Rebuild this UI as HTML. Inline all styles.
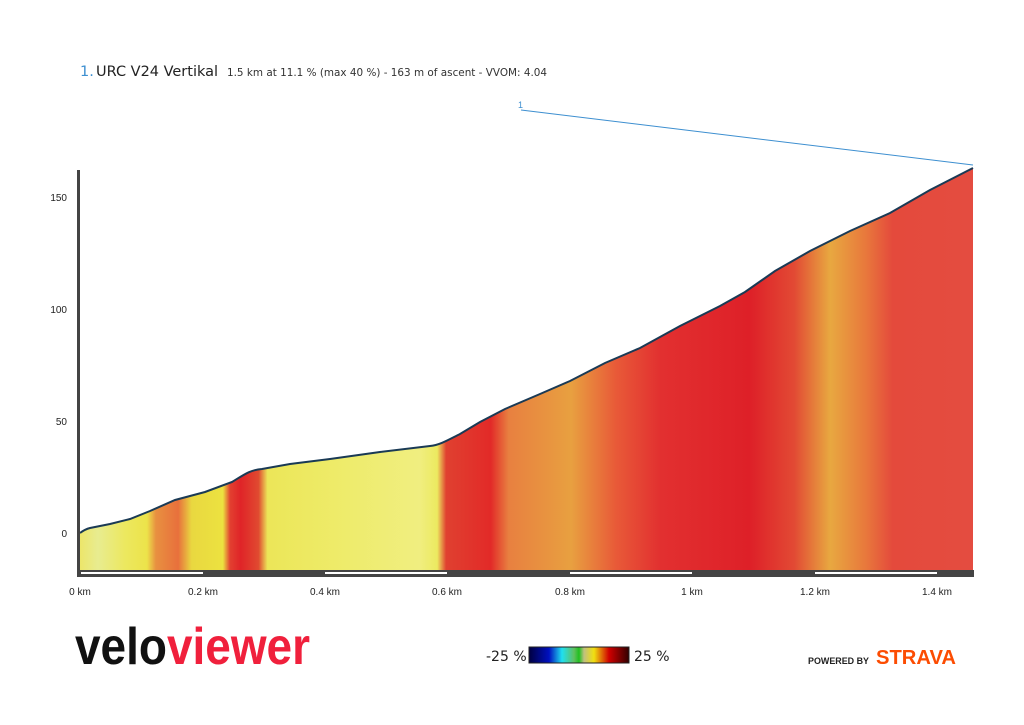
<!DOCTYPE html>
<html><head><meta charset="utf-8"><style>
body{margin:0;background:#fff;width:1024px;height:720px;overflow:hidden;font-family:"Liberation Sans","DejaVu Sans",sans-serif}
</style></head><body>
<svg width="1024" height="720" viewBox="0 0 1024 720" xmlns="http://www.w3.org/2000/svg">
<defs>
<linearGradient id="g" gradientUnits="userSpaceOnUse" x1="80" y1="0" x2="973" y2="0">
<stop offset="0" stop-color="#ece66a"/>
<stop offset="0.02" stop-color="#e8ec90"/>
<stop offset="0.05" stop-color="#ece860"/>
<stop offset="0.075" stop-color="#ece34a"/>
<stop offset="0.085" stop-color="#e89040"/>
<stop offset="0.11" stop-color="#e8703c"/>
<stop offset="0.125" stop-color="#e9d840"/>
<stop offset="0.16" stop-color="#ece240"/>
<stop offset="0.168" stop-color="#e24030"/>
<stop offset="0.18" stop-color="#e02428"/>
<stop offset="0.2" stop-color="#e04a30"/>
<stop offset="0.21" stop-color="#ece658"/>
<stop offset="0.3" stop-color="#eeec6c"/>
<stop offset="0.38" stop-color="#f0ee80"/>
<stop offset="0.4" stop-color="#ecea60"/>
<stop offset="0.41" stop-color="#e04030"/>
<stop offset="0.46" stop-color="#e22a28"/>
<stop offset="0.48" stop-color="#e88040"/>
<stop offset="0.55" stop-color="#e8a040"/>
<stop offset="0.6" stop-color="#e85a38"/>
<stop offset="0.65" stop-color="#e23030"/>
<stop offset="0.75" stop-color="#de2028"/>
<stop offset="0.8" stop-color="#e24a34"/>
<stop offset="0.84" stop-color="#e8a840"/>
<stop offset="0.88" stop-color="#e8783c"/>
<stop offset="0.91" stop-color="#e44a3c"/>
<stop offset="1" stop-color="#e44c40"/>
</linearGradient>
</defs>
<text x="80" y="76" font-size="14.5" fill="#3d8fd0" font-family="DejaVu Sans, sans-serif">1.</text>
<text x="96" y="76" font-size="14.5" fill="#222" font-family="DejaVu Sans, sans-serif" textLength="122" lengthAdjust="spacingAndGlyphs">URC V24 Vertikal</text>
<text x="227" y="76" font-size="10.5" fill="#333" font-family="DejaVu Sans, sans-serif" textLength="320" lengthAdjust="spacingAndGlyphs">1.5 km at 11.1 % (max 40 %) - 163 m of ascent - VVOM: 4.04</text>
<text x="518" y="108" font-size="9" fill="#3d8fd0">1</text>
<polyline points="521,110 973,165" fill="none" stroke="#3d8fd0" stroke-width="1"/>
<path d="M80,570 L80,533 C84,530 86,529 90,528 L110,524 130,519 150,511 175,500 205,492 232,482 C245,474 250,470 262,469 L290,464 330,459 380,452 430,446 C440,445 448,440 460,434 L480,422 505,409 540,394 570,381 605,363 640,348 680,326 720,306 745,292 775,271 810,251 850,231 890,213 930,190 973,168 L973,570 Z" fill="url(#g)" stroke="none"/>
<path d="M80,533 C84,530 86,529 90,528 L110,524 130,519 150,511 175,500 205,492 232,482 C245,474 250,470 262,469 L290,464 330,459 380,452 430,446 C440,445 448,440 460,434 L480,422 505,409 540,394 570,381 605,363 640,348 680,326 720,306 745,292 775,271 810,251 850,231 890,213 930,190 973,168" fill="none" stroke="#1a3a55" stroke-width="2"/>
<line x1="78.5" y1="170" x2="78.5" y2="577" stroke="#444" stroke-width="3"/>
<rect x="78" y="570" width="896" height="7" fill="#444"/>
<g stroke="#fff" stroke-width="2"><line x1="81" y1="573" x2="203" y2="573"/><line x1="325" y1="573" x2="447" y2="573"/><line x1="570" y1="573" x2="692" y2="573"/><line x1="815" y1="573" x2="937" y2="573"/></g>
<g font-size="10" fill="#222" text-anchor="end"><text x="67" y="537">0</text><text x="67" y="425">50</text><text x="67" y="313">100</text><text x="67" y="201">150</text></g>
<g font-size="10" fill="#222" text-anchor="middle"><text x="80" y="595">0 km</text><text x="203" y="595">0.2 km</text><text x="325" y="595">0.4 km</text><text x="447" y="595">0.6 km</text><text x="570" y="595">0.8 km</text><text x="692" y="595">1 km</text><text x="815" y="595">1.2 km</text><text x="937" y="595">1.4 km</text></g>
<text x="75" y="664" font-size="52" font-weight="bold" fill="#111" font-family="Liberation Sans, sans-serif" textLength="235" lengthAdjust="spacingAndGlyphs">velo<tspan fill="#f0203c">viewer</tspan></text>
<text x="486" y="661" font-size="14" fill="#222" font-family="DejaVu Sans, sans-serif">-25 %</text>
<defs><linearGradient id="s" x1="0" x2="1"><stop offset="0" stop-color="#000040"/><stop offset="0.2" stop-color="#0010c0"/><stop offset="0.33" stop-color="#20e0f0"/><stop offset="0.45" stop-color="#60c060"/><stop offset="0.5" stop-color="#20c020"/><stop offset="0.55" stop-color="#c0c080"/><stop offset="0.65" stop-color="#f0e010"/><stop offset="0.8" stop-color="#d00000"/><stop offset="1" stop-color="#300000"/></linearGradient></defs>
<rect x="529" y="647" width="100" height="16" fill="url(#s)" stroke="#222"/>
<text x="634" y="661" font-size="14" fill="#222" font-family="DejaVu Sans, sans-serif">25 %</text>
<text x="808" y="664" font-size="9" font-weight="bold" fill="#222" textLength="61" lengthAdjust="spacingAndGlyphs">POWERED BY</text>
<text x="876" y="664" font-size="20" font-weight="bold" fill="#fc4c02" textLength="80" lengthAdjust="spacingAndGlyphs">STRAVA</text>
</svg>
</body></html>
